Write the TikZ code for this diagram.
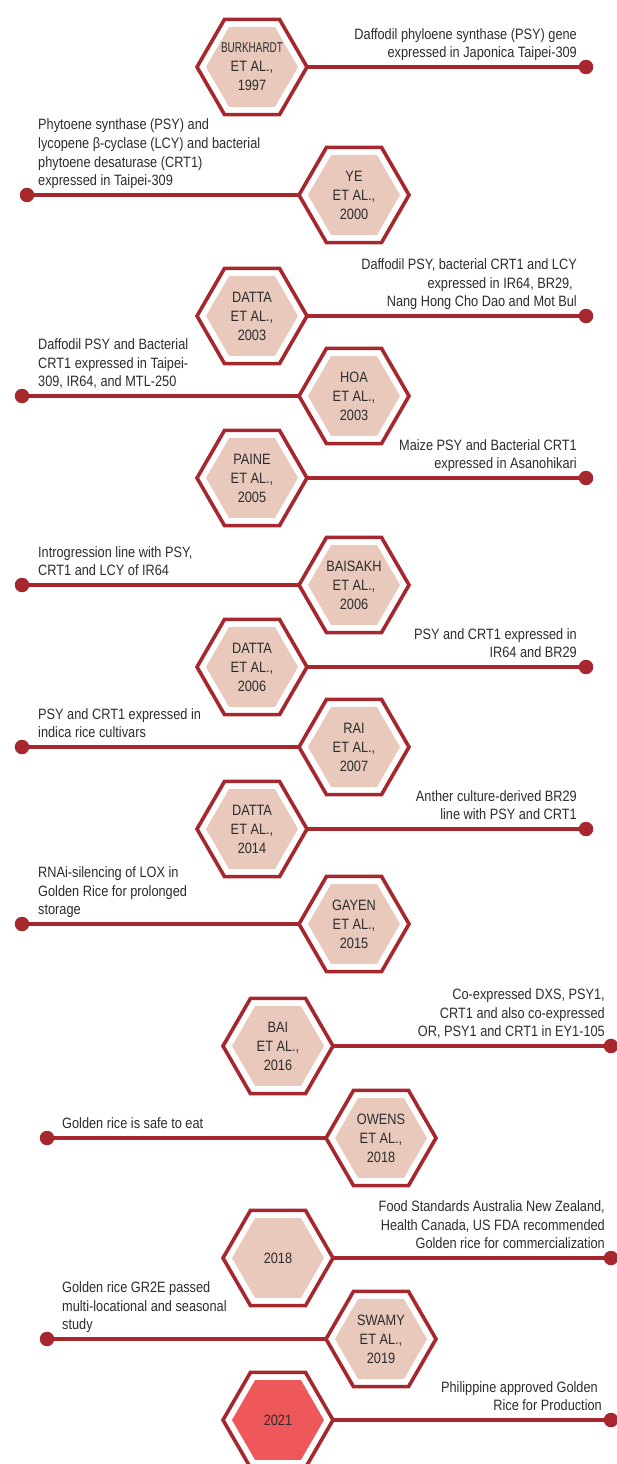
\documentclass[tikz,border=0pt]{standalone}
\usepackage{fontspec}
\setmainfont{Liberation Sans}[FakeStretch=0.85]
\usetikzlibrary{shapes.geometric}
\definecolor{hexred}{RGB}{167,39,46}
\definecolor{hexfill}{RGB}{232,201,187}
\definecolor{hexhot}{RGB}{239,88,90}
\definecolor{txtgray}{RGB}{45,45,45}
\newcommand\lastln{\rule[-5pt]{0pt}{5pt}}
\begin{document}
\begin{tikzpicture}[x=1pt,y=-1pt,
  hexout/.style={regular polygon, regular polygon sides=6, minimum size=110pt,
    inner sep=0pt, outer sep=0pt, draw=hexred, line width=3.6pt, fill=white},
  hexin/.style={regular polygon, regular polygon sides=6, minimum size=92pt,
    inner sep=0pt, outer sep=0pt, fill=hexfill},
  hexinhot/.style={hexin, fill=hexhot},
  hexlab/.style={align=center, text=txtgray, font=\fontsize{15}{19}\selectfont, inner sep=0pt},
  rtext/.style={align=right, anchor=south east, text=txtgray,
    font=\fontsize{15}{18.7}\selectfont, inner sep=0pt},
  ltext/.style={align=left, anchor=south west, text=txtgray,
    font=\fontsize{15}{18.7}\selectfont, inner sep=0pt},
  conn/.style={draw=hexred, line width=4pt},
  enddot/.style={circle, fill=hexred, minimum size=14.5pt, inner sep=0pt, outer sep=0pt}
]
\useasboundingbox (0,0) rectangle (617,1464);
\clip (0,0) rectangle (617,1464);
\fill[white] (0,0) rectangle (617,1464);

% Row 1
\node[hexout] (h1) at (252,67) {};
\node[hexin] (i1) at (h1.center) {};
\node[hexlab] (l1) at (h1.center) {\scalebox{0.78}[0.95]{BURKHARDT}\\ET AL.,\\1997};
\node[enddot] (d1) at (586,67) {};
\draw[conn] (h1.east) -- (d1.center);
\node[rtext] (t1) at (577,63) {Daffodil phyloene synthase (PSY) gene\\expressed in Japonica Taipei-309\lastln};

% Row 2
\node[hexout] (h2) at (354,195) {};
\node[hexin] (i2) at (h2.center) {};
\node[hexlab] (l2) at (h2.center) {YE\\ET AL.,\\2000};
\node[enddot] (d2) at (27,195) {};
\draw[conn] (h2.west) -- (d2.center);
\node[ltext] (t2) at (38,191) {Phytoene synthase (PSY) and\\lycopene β-cyclase (LCY) and bacterial\\phytoene desaturase (CRT1)\\expressed in Taipei-309\lastln};

% Row 3
\node[hexout] (h3) at (252,316) {};
\node[hexin] (i3) at (h3.center) {};
\node[hexlab] (l3) at (h3.center) {DATTA\\ET AL.,\\2003};
\node[enddot] (d3) at (586,316) {};
\draw[conn] (h3.east) -- (d3.center);
\node[rtext] (t3) at (577,312) {Daffodil PSY, bacterial CRT1 and LCY\\expressed in IR64, BR29,\kern4pt\\Nang Hong Cho Dao and Mot Bul\lastln};

% Row 4
\node[hexout] (h4) at (354,396) {};
\node[hexin] (i4) at (h4.center) {};
\node[hexlab] (l4) at (h4.center) {HOA\\ET AL.,\\2003};
\node[enddot] (d4) at (22,396) {};
\draw[conn] (h4.west) -- (d4.center);
\node[ltext] (t4) at (38,392) {Daffodil PSY and Bacterial\\CRT1 expressed in Taipei-\\309, IR64, and MTL-250\lastln};

% Row 5
\node[hexout] (h5) at (252,478) {};
\node[hexin] (i5) at (h5.center) {};
\node[hexlab] (l5) at (h5.center) {PAINE\\ET AL.,\\2005};
\node[enddot] (d5) at (586,478) {};
\draw[conn] (h5.east) -- (d5.center);
\node[rtext] (t5) at (577,474) {Maize PSY and Bacterial CRT1\\expressed in Asanohikari\lastln};

% Row 6
\node[hexout] (h6) at (354,585) {};
\node[hexin] (i6) at (h6.center) {};
\node[hexlab] (l6) at (h6.center) {BAISAKH\\ET AL.,\\2006};
\node[enddot] (d6) at (22,585) {};
\draw[conn] (h6.west) -- (d6.center);
\node[ltext] (t6) at (38,581) {Introgression line with PSY,\\CRT1 and LCY of IR64\lastln};

% Row 7
\node[hexout] (h7) at (252,667) {};
\node[hexin] (i7) at (h7.center) {};
\node[hexlab] (l7) at (h7.center) {DATTA\\ET AL.,\\2006};
\node[enddot] (d7) at (586,667) {};
\draw[conn] (h7.east) -- (d7.center);
\node[rtext] (t7) at (577,663) {PSY and CRT1 expressed in\\IR64 and BR29\lastln};

% Row 8
\node[hexout] (h8) at (354,747) {};
\node[hexin] (i8) at (h8.center) {};
\node[hexlab] (l8) at (h8.center) {RAI\\ET AL.,\\2007};
\node[enddot] (d8) at (22,747) {};
\draw[conn] (h8.west) -- (d8.center);
\node[ltext] (t8) at (38,743) {PSY and CRT1 expressed in\\indica rice cultivars\lastln};

% Row 9
\node[hexout] (h9) at (252,829) {};
\node[hexin] (i9) at (h9.center) {};
\node[hexlab] (l9) at (h9.center) {DATTA\\ET AL.,\\2014};
\node[enddot] (d9) at (586,829) {};
\draw[conn] (h9.east) -- (d9.center);
\node[rtext] (t9) at (577,825) {Anther culture-derived BR29\\line with PSY and CRT1\lastln};

% Row 10
\node[hexout] (h10) at (354,924) {};
\node[hexin] (i10) at (h10.center) {};
\node[hexlab] (l10) at (h10.center) {GAYEN\\ET AL.,\\2015};
\node[enddot] (d10) at (22,924) {};
\draw[conn] (h10.west) -- (d10.center);
\node[ltext] (t10) at (38,920) {RNAi-silencing of LOX in\\Golden Rice for prolonged\\storage\lastln};

% Row 11
\node[hexout] (h11) at (278,1046) {};
\node[hexin] (i11) at (h11.center) {};
\node[hexlab] (l11) at (h11.center) {BAI\\ET AL.,\\2016};
\node[enddot] (d11) at (611,1046) {};
\draw[conn] (h11.east) -- (d11.center);
\node[rtext] (t11) at (605,1042) {Co-expressed DXS, PSY1,\\CRT1 and also co-expressed\\OR, PSY1 and CRT1 in EY1-105\lastln};

% Row 12
\node[hexout] (h12) at (381,1138) {};
\node[hexin] (i12) at (h12.center) {};
\node[hexlab] (l12) at (h12.center) {OWENS\\ET AL.,\\2018};
\node[enddot] (d12) at (47,1138) {};
\draw[conn] (h12.west) -- (d12.center);
\node[ltext] (t12) at (62,1134) {Golden rice is safe to eat\lastln};

% Row 13
\node[hexout] (h13) at (278,1258) {};
\node[hexin] (i13) at (h13.center) {};
\node[hexlab] (l13) at (h13.center) {2018};
\node[enddot] (d13) at (611,1258) {};
\draw[conn] (h13.east) -- (d13.center);
\node[rtext] (t13) at (605,1254) {Food Standards Australia New Zealand,\\Health Canada, US FDA recommended\\Golden rice for commercialization\lastln};

% Row 14
\node[hexout] (h14) at (381,1339) {};
\node[hexin] (i14) at (h14.center) {};
\node[hexlab] (l14) at (h14.center) {SWAMY\\ET AL.,\\2019};
\node[enddot] (d14) at (47,1339) {};
\draw[conn] (h14.west) -- (d14.center);
\node[ltext] (t14) at (62,1335) {Golden rice GR2E passed\\multi-locational and seasonal\\study\lastln};

% Row 15
\node[hexout] (h15) at (278,1420) {};
\node[hexinhot] (i15) at (h15.center) {};
\node[hexlab] (l15) at (h15.center) {2021};
\node[enddot] (d15) at (611,1420) {};
\draw[conn] (h15.east) -- (d15.center);
\node[rtext] (t15) at (602,1416) {Philippine approved Golden\kern4pt\\Rice for Production\lastln};
\end{tikzpicture}
\end{document}
